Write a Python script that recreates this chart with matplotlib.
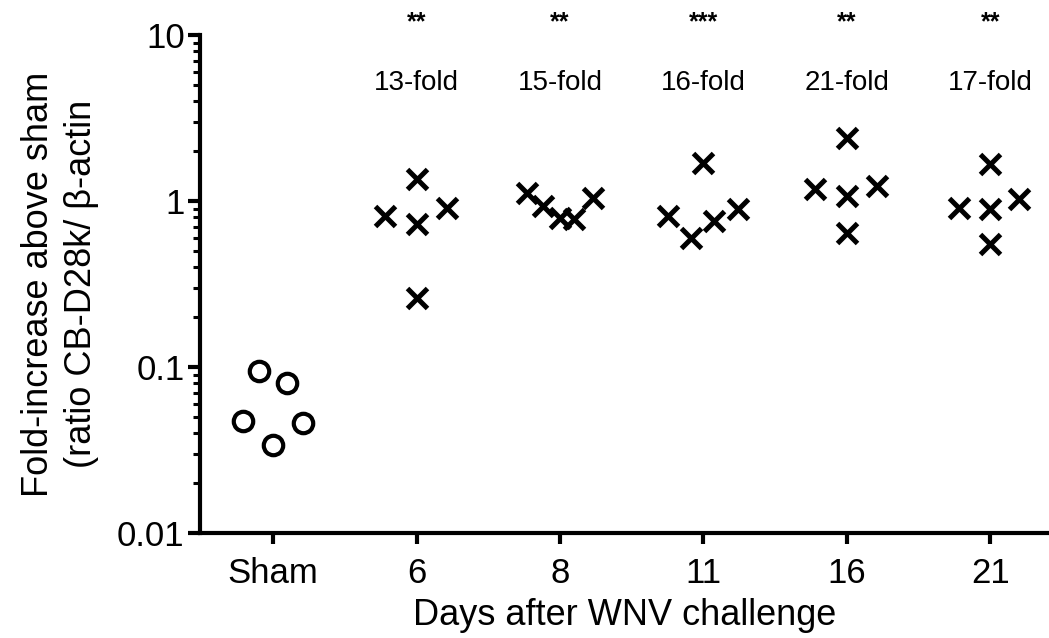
import matplotlib
matplotlib.use("Agg")
import matplotlib.pyplot as plt
from matplotlib.ticker import LogLocator, NullFormatter, FixedLocator, FixedFormatter
import matplotlib.transforms as mtransforms

plt.rcParams['font.family'] = ['Liberation Sans', 'DejaVu Sans']

# ---- data ----
categories = ["Sham", "6", "8", "11", "16", "21"]
sham = [0.094, 0.080, 0.047, 0.046, 0.034]
day6 = [0.81, 1.36, 0.73, 0.91, 0.26]
day8 = [1.12, 0.93, 0.79, 0.78, 1.04]
day11 = [0.81, 0.60, 0.76, 0.90, 1.69]
day16 = [1.18, 1.07, 1.23, 2.39, 0.64]
day21 = [0.91, 0.90, 1.03, 1.67, 0.55]
fold_labels = ["", "13-fold", "15-fold", "16-fold", "21-fold", "17-fold"]
stars = ["", "**", "**", "***", "**", "**"]

# horizontal jitter (layout) for each group's points
jitter = [
    [-0.10, 0.10, -0.21, 0.21, 0.0],
    [-0.22, 0.0, 0.0, 0.21, 0.0],
    [-0.23, -0.12, 0.0, 0.10, 0.23],
    [-0.25, -0.09, 0.07, 0.24, 0.0],
    [-0.22, 0.0, 0.21, 0.0, 0.0],
    [-0.22, 0.0, 0.20, 0.0, 0.0],
]
groups = [sham, day6, day8, day11, day16, day21]

fig = plt.figure(figsize=(10.49, 6.38), dpi=100)
ax = fig.add_axes([200/1049, 105/638, 849/1049, 498/638])

for i, (vals, jit) in enumerate(zip(groups, jitter)):
    xs = [i + j for j in jit]
    if i == 0:
        ax.plot(xs, vals, linestyle='none', marker='o', markersize=14,
                markerfacecolor='none', markeredgecolor='black', markeredgewidth=3)
    else:
        ax.plot(xs, vals, linestyle='none', marker='x', markersize=14,
                markeredgecolor='black', markeredgewidth=3.6)

ax.set_yscale('log')
ax.set_ylim(0.01, 10)
ax.set_xlim(-0.509, 5.408)

ax.yaxis.set_major_locator(FixedLocator([0.01, 0.1, 1, 10]))
ax.yaxis.set_major_formatter(FixedFormatter(["0.01", "0.1", "1", "10"]))
ax.yaxis.set_minor_locator(LogLocator(base=10, subs=range(2, 10)))
ax.yaxis.set_minor_formatter(NullFormatter())

ax.set_xticks(range(len(categories)))
ax.set_xticklabels(categories)

for s in ['top', 'right']:
    ax.spines[s].set_visible(False)
for s in ['left', 'bottom']:
    ax.spines[s].set_linewidth(3)

ax.tick_params(axis='y', which='major', direction='out', length=9, width=3,
               labelsize=25, pad=2)
ax.tick_params(axis='y', which='minor', direction='out', length=5, width=2.2)
ax.tick_params(axis='x', which='major', direction='out', length=8, width=3,
               labelsize=25, pad=9)

ax.set_xlabel("Days after WNV challenge", fontsize=26, labelpad=6)
ax.set_ylabel("Fold-increase above sham\n(ratio CB-D28k/ \u03b2-actin",
              fontsize=26, labelpad=13, linespacing=1.3)

trans = mtransforms.blended_transform_factory(ax.transData, ax.transAxes)
for i in range(len(categories)):
    if fold_labels[i]:
        ax.text(i, 0.903, fold_labels[i], transform=trans, ha='center',
                va='center', fontsize=20)
    if stars[i]:
        ax.text(i, 1.025, stars[i], transform=trans, ha='center',
                va='center', fontsize=18, fontweight='bold', clip_on=False)

fig.savefig("out.png", dpi=100)
